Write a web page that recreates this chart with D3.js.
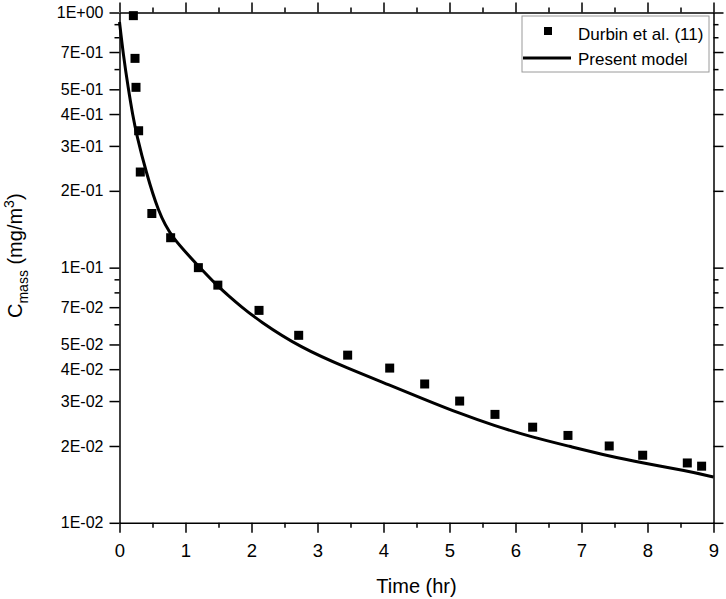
<!DOCTYPE html>
<html>
<head>
<meta charset="utf-8">
<script src="https://cdn.jsdelivr.net/npm/d3@7/dist/d3.min.js"></script>
<style>
  body { margin: 0; background: white; }
  text { font-family: "Liberation Sans", Arial, sans-serif; fill: black; }
  .axis path, .axis line { stroke: black; stroke-width: 1.5; }
</style>
</head>
<body>
<div id="chart"></div>
<script>

var measTime = [0.21, 0.235, 0.25, 0.29, 0.315, 0.49, 0.775, 1.195, 1.49, 2.114, 2.715, 3.457,
                4.094, 4.624, 5.154, 5.689, 6.26, 6.795, 7.42, 7.927, 8.603, 8.82];
var measConc = [0.972, 0.661, 0.509, 0.344, 0.237, 0.163, 0.131, 0.100, 0.0854, 0.0680, 0.0543, 0.0454,
                0.0404, 0.0350, 0.0300, 0.0266, 0.0237, 0.0220, 0.0200, 0.0184, 0.01716, 0.01667];

// present model curve
var modelTime = [0, 0.058, 0.133, 0.2, 0.26, 0.40, 0.59, 0.78, 1.22, 1.47, 1.67, 1.83, 2.11,
                 2.74, 3.47, 4.10, 4.63, 5.16, 5.66, 6.27, 6.80, 7.43, 7.94, 8.59, 9.0];
var modelConc = [0.918, 0.681, 0.504, 0.396, 0.331, 0.238, 0.165, 0.132, 0.100, 0.0854, 0.0769, 0.0708, 0.0620,
                 0.0486, 0.0402, 0.0346, 0.0304, 0.0268, 0.0241, 0.0216, 0.0200, 0.01823, 0.01716, 0.01597, 0.01513];

// axis ticks
var xMajor = [0, 1, 2, 3, 4, 5, 6, 7, 8, 9];
var xMinor = [0.5, 1.5, 2.5, 3.5, 4.5, 5.5, 6.5, 7.5, 8.5];
var yMajor = [1, 0.7, 0.5, 0.4, 0.3, 0.2, 0.1, 0.07, 0.05, 0.04, 0.03, 0.02, 0.01];
var yLabels = ['1E+00', '7E-01', '5E-01', '4E-01', '3E-01', '2E-01', '1E-01', '7E-02', '5E-02', '4E-02', '3E-02', '2E-02', '1E-02'];
var yMinor = [0.9, 0.8, 0.6, 0.09, 0.08, 0.06];

var seriesNames = ['Durbin et al. (11)', 'Present model'];

(function() {

	var width = 726, height = 599;
	var plotLeft = 119.5, plotRight = 713.5, plotTop = 12.5, plotBottom = 522.8;
	var majorLen = 10, minorLen = 5;

	var svg = d3.select('#chart').append('svg')
		.attr('width', width)
		.attr('height', height);

	var x = d3.scaleLinear().domain([0, 9]).range([plotLeft, plotRight]);
	var y = d3.scaleLog().domain([0.01, 1]).range([plotBottom, plotTop]);

	/**
	 * Draws one side of the frame with major and minor ticks
	 */
	var drawAxis = function(axisFn, scale, translate, major, minor, format, fontSize) {
		var g = svg.append('g').attr('class', 'axis').attr('transform', translate);
		g.call(axisFn(scale).tickValues(major).tickSize(majorLen).tickSizeOuter(0).tickPadding(4)
			.tickFormat(format));
		g.attr('font-size', fontSize).attr('font-family', '"Liberation Sans", Arial, sans-serif');
		g.selectAll('text').style('font-size', fontSize + 'px');
		var gm = svg.append('g').attr('class', 'axis').attr('transform', translate);
		gm.call(axisFn(scale).tickValues(minor).tickSize(minorLen).tickSizeOuter(0).tickFormat(''));
		gm.select('.domain').remove();
		return g;
	};

	var none = function() { return ''; };

	drawAxis(d3.axisBottom, x, 'translate(0,' + plotBottom + ')', xMajor, xMinor, d3.format('d'), 18.5)
		.selectAll('text').attr('y', 34).attr('dy', 0);
	drawAxis(d3.axisTop, x, 'translate(0,' + plotTop + ')', xMajor, xMinor, none, 18);
	drawAxis(d3.axisLeft, y, 'translate(' + plotLeft + ',0)', yMajor, yMinor, function(d, i) { return yLabels[i]; }, 16)
		.selectAll('text').attr('x', -16);
	drawAxis(d3.axisRight, y, 'translate(' + plotRight + ',0)', yMajor, yMinor, none, 16);

	// model curve
	var modelData = modelTime.map(function(t, i) { return {t: t, c: modelConc[i]}; });
	var line = d3.line()
		.x(function(d) { return x(d.t); })
		.y(function(d) { return y(d.c); })
		.curve(d3.curveBasis);

	svg.append('path')
		.datum(modelData)
		.attr('fill', 'none')
		.attr('stroke', 'black')
		.attr('stroke-width', 3)
		.attr('d', line);

	// measured points
	var markerSize = 9;
	var measData = measTime.map(function(t, i) { return {t: t, c: measConc[i]}; });
	svg.selectAll('.meas').data(measData).enter().append('rect')
		.attr('class', 'meas')
		.attr('x', function(d) { return x(d.t) - markerSize / 2; })
		.attr('y', function(d) { return y(d.c) - markerSize / 2; })
		.attr('width', markerSize)
		.attr('height', markerSize)
		.style('fill', 'black');

	// axis titles
	svg.append('text')
		.attr('x', (plotLeft + plotRight) / 2)
		.attr('y', 593)
		.attr('text-anchor', 'middle')
		.style('font-size', '20px')
		.text('Time (hr)');

	var yt = svg.append('text')
		.attr('transform', 'translate(22,318) rotate(-90)')
		.attr('text-anchor', 'start')
		.style('font-size', '20px');
	yt.append('tspan').text('C');
	yt.append('tspan').attr('dy', 6).style('font-size', '14px').text('mass');
	yt.append('tspan').attr('dy', -6).text(' (mg/m');
	yt.append('tspan').attr('dy', -8).style('font-size', '14px').text('3');
	yt.append('tspan').attr('dy', 8).text(')');

	// legend
	var lg = svg.append('g');
	lg.append('rect')
		.attr('x', 522).attr('y', 16).attr('width', 187).attr('height', 56)
		.style('fill', 'white').style('stroke', '#9a9a9a').style('stroke-width', 1);
	lg.append('rect')
		.attr('x', 548 - 4).attr('y', 31 - 4).attr('width', 8).attr('height', 8)
		.style('fill', 'black');
	lg.append('line')
		.attr('x1', 523).attr('x2', 571).attr('y1', 58).attr('y2', 58)
		.style('stroke', 'black').style('stroke-width', 3);
	lg.selectAll('.lgText').data(seriesNames).enter().append('text')
		.attr('class', 'lgText')
		.attr('x', 578)
		.attr('y', function(d, i) { return 39.5 + i * 25; })
		.style('font-size', '17px')
		.text(function(d) { return d; });

})();

</script>
</body>
</html>
